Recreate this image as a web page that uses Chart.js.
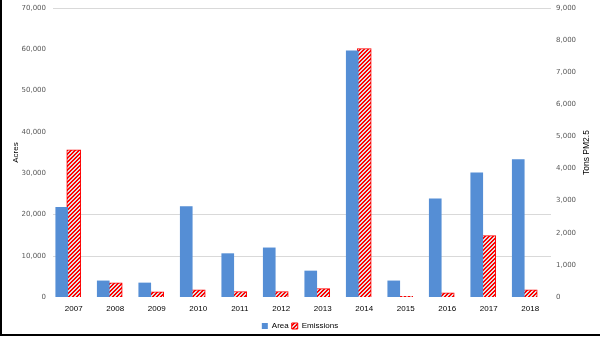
<!DOCTYPE html>
<html>
<head>
<meta charset="utf-8">
<script src="https://cdn.jsdelivr.net/npm/chart.js@4/dist/chart.umd.min.js"></script>
<style>
  html, body { margin: 0; padding: 0; background: #fff; }
  #wrap { width: 600px; height: 338px; position: relative; }
</style>
</head>
<body>
<div id="wrap"><canvas id="chart" width="600" height="338"></canvas></div>
<script>
// Data
const years = ['2007', '2008', '2009', '2010', '2011', '2012', '2013', '2014', '2015', '2016', '2017', '2018'];
const areaAcres = [21700, 3900, 3400, 21900, 10500, 11900, 6300, 59600, 3900, 23800, 30100, 33300];
const emissionsTons = [4580, 440, 160, 220, 170, 170, 260, 7740, 20, 130, 1910, 220];
const spacer = [null, null, null, null, null, null, null, null, null, null, null, null];
const shownGrid = [10000, 20000, 70000]; // only these gridlines are visible in the original

// red diagonal hatch like Excel's "wide upward diagonal"
function makeHatch() {
    const c = document.createElement('canvas');
    c.width = 4;
    c.height = 4;
    const g = c.getContext('2d');
    g.fillStyle = '#e0e0e0';
    g.fillRect(0, 0, 4, 4);
    g.fillStyle = '#ff0000';
    for (let x = 0; x < 4; x++) {
        for (let y = 0; y < 4; y++) {
            if ((x + y) % 4 < 2) g.fillRect(x, y, 1, 1);
        }
    }
    return g.createPattern(c, 'repeat');
}

// the few gridlines, the black frame, right axis title reading upwards
const extras = {
    id: 'extras',
    beforeDatasetsDraw(chart) {
        const g = chart.ctx;
        const area = chart.chartArea;
        const yScale = chart.scales.y;
        g.save();
        g.strokeStyle = '#d9d9d9';
        g.lineWidth = 1;
        shownGrid.forEach(v => {
            const py = Math.round(yScale.getPixelForValue(v)) + 0.5;
            g.beginPath();
            g.moveTo(area.left, py);
            g.lineTo(area.right, py);
            g.stroke();
        });
        g.restore();
    },
    afterDraw(chart) {
        const g = chart.ctx;
        const area = chart.chartArea;
        g.save();
        g.fillStyle = '#000';
        g.fillRect(0, 0, 2, 336);
        g.fillRect(0, 334, 600, 2);
        g.translate(587, (area.top + area.bottom) / 2);
        g.rotate(-Math.PI / 2);
        g.font = '8.5px "Liberation Sans"';
        g.textAlign = 'center';
        g.textBaseline = 'middle';
        g.fillText('Tons PM2.5', 0, 0);
        g.restore();
    }
};

const tickFont = { family: 'DejaVu Sans', size: 7 };
const textColor = '#595959';

function fitY(width) {
    return s => {
        s.width = width;
        s.paddingTop = 8;
        s.paddingBottom = 0;
    };
}

const ctx = document.getElementById('chart');
new Chart(ctx, {
    type: 'bar',
    data: {
        labels: years,
        datasets: [{
            label: 'Area',
            data: areaAcres,
            backgroundColor: '#558ed5',
            barThickness: 12,
            yAxisID: 'y'
        }, {
            label: 'Emissions',
            data: emissionsTons,
            backgroundColor: makeHatch(),
            borderColor: '#ff0000',
            borderWidth: 1,
            barThickness: 14,
            yAxisID: 'y2'
        }, {
            label: '',
            data: spacer,
            yAxisID: 'y'
        }]
    },
    options: {
        responsive: false,
        animation: false,
        categoryPercentage: 1.08,
        layout: { padding: { top: 0, bottom: -2, left: 0, right: 0 } },
        plugins: {
            legend: {
                position: 'bottom',
                labels: {
                    filter: item => item.text !== '',
                    boxWidth: 6,
                    boxHeight: 6,
                    padding: 3,
                    color: '#000',
                    font: { family: 'Liberation Sans', size: 8 }
                }
            },
            tooltip: { enabled: false }
        },
        scales: {
            x: {
                afterFit: s => { s.height = 22; },
                grid: { display: false, drawTicks: false },
                border: { display: false },
                ticks: { color: '#000', font: { family: 'Liberation Sans', size: 8 }, padding: 7, maxRotation: 0 }
            },
            y: {
                position: 'left',
                min: 0,
                max: 70000,
                afterFit: fitY(53),
                ticks: {
                    stepSize: 10000,
                    padding: 7,
                    color: textColor,
                    font: tickFont,
                    callback: v => v.toLocaleString('en-US')
                },
                grid: { display: false, drawTicks: false },
                border: { display: false },
                title: {
                    display: true,
                    text: 'Acres',
                    color: '#000',
                    font: { family: 'Liberation Sans', size: 8 },
                    padding: { top: 11, bottom: 0 }
                }
            },
            y2: {
                position: 'right',
                min: 0,
                max: 9000,
                afterFit: fitY(49),
                ticks: {
                    stepSize: 1000,
                    padding: 5,
                    color: textColor,
                    font: tickFont,
                    callback: v => v.toLocaleString('en-US')
                },
                grid: { display: false, drawTicks: false },
                border: { display: false }
            }
        }
    },
    plugins: [extras]
});
</script>
</body>
</html>
